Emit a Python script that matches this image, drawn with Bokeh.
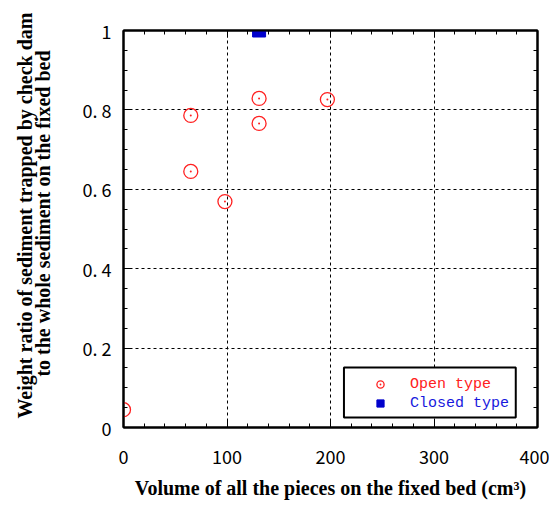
from bokeh.plotting import figure
from bokeh.models import (LinearAxis, FixedTicker, CustomJSTickFormatter, Legend,
                          LegendItem, BoxAnnotation, Range1d, Title)
from bokeh.embed import file_html
from bokeh.resources import INLINE
import numpy as np

# ---- data ----
open_x = [0, 65, 65, 98, 131, 131, 197]
open_y = [0.045, 0.786, 0.645, 0.569, 0.829, 0.766, 0.826]
closed_x = [131]
closed_y = [1.0]

x_ticks = [0, 100, 200, 300, 400]
y_ticks = [0, 0.2, 0.4, 0.6, 0.8, 1.0]
y_tick_labels = ["0", "0. 2", "0. 4", "0. 6", "0. 8", "1"]

x_label = "Volume of all the pieces on the fixed bed (cm\u00b3)"
y_label_lines = ["Weight ratio of sediment trapped by check dam",
                 "to the whole sediment on the fixed bed"]

TICK_FONT = "Noto Sans CJK JP"
LABEL_FONT = "Liberation Serif"
LEGEND_FONT = "Liberation Mono"

p = figure(frame_width=414, frame_height=397,
           x_range=Range1d(0, 400), y_range=Range1d(0, 1),
           output_backend="svg", toolbar_location=None,
           min_border_left=123, min_border_top=30, min_border_right=12,
           min_border_bottom=10)
p.background_fill_color = "white"
p.border_fill_color = "white"
p.outline_line_color = "black"
p.outline_line_width = 2

x_minor = list(np.arange(0, 401, 20))
y_minor = list(np.round(np.arange(0, 1.0001, 0.05), 2))

# grids
for g, t in ((p.xgrid, x_ticks), (p.ygrid, y_ticks)):
    g.ticker = FixedTicker(ticks=t)
    g.grid_line_color = "black"
    g.grid_line_dash = "3 3"
    g.grid_line_width = 1

fmt_js = "var labs = %s; var ts = %s; for (var i=0;i<ts.length;i++){ if (Math.abs(ts[i]-tick)<1e-6) return labs[i]; } return '';" % (
    str(y_tick_labels).replace("'", '"'), str(y_ticks))


def style(ax, ticks, minor, show_labels):
    ax.ticker = FixedTicker(ticks=ticks, minor_ticks=minor)
    ax.axis_line_width = 2
    ax.axis_line_color = "black"
    ax.major_tick_in = 7
    ax.major_tick_out = 0
    ax.minor_tick_in = 4
    ax.minor_tick_out = 0
    ax.major_tick_line_width = 1
    ax.minor_tick_line_width = 1
    if show_labels:
        ax.major_label_text_font = TICK_FONT
        ax.major_label_text_font_size = "18px"
        ax.major_label_text_color = "black"
        ax.axis_label_text_font = LABEL_FONT
        ax.axis_label_text_font_style = "bold"
        ax.axis_label_text_font_size = "20px"
        ax.axis_label_text_color = "black"
    else:
        ax.formatter = CustomJSTickFormatter(code="return '';")
        ax.major_label_standoff = 0


xb = p.xaxis[0]
yl = p.yaxis[0]
style(xb, x_ticks, x_minor, True)
style(yl, y_ticks, y_minor, True)
xb.axis_label = x_label
xb.major_label_standoff = 22
xb.axis_label_standoff = 10
yl.major_label_standoff = 12
yl.formatter = CustomJSTickFormatter(code=fmt_js)

xt = LinearAxis()
style(xt, x_ticks, x_minor, False)
p.add_layout(xt, "above")
yr = LinearAxis()
style(yr, y_ticks, y_minor, False)
p.add_layout(yr, "right")

# y-axis title: two lines as left-side titles (inner line first)
for txt, off, stand in ((y_label_lines[1], 20, 51), (y_label_lines[0], -18, -62)):
    p.add_layout(Title(text=txt, align="right", offset=off, standoff=stand,
                       text_font=LABEL_FONT, text_font_style="bold",
                       text_font_size="20px", text_color="black"), "left")

# data marks
r_open = p.scatter(open_x, open_y, marker="circle", size=14,
                   line_color="#ff2020", fill_color=None, line_width=1.3)
r_open_dot = p.scatter(open_x, open_y, marker="dot", size=8,
                       line_color="#ff2020", fill_color="#ff2020")
r_closed = p.scatter(closed_x, closed_y, marker="square", size=13,
                     line_color="#0000cc", fill_color="#0000cc")

# legend box (frame decoration, in data units)
box = BoxAnnotation(left=213, right=379, bottom=0.025, top=0.151,
                    fill_color="white", fill_alpha=1.0,
                    line_color="black", line_width=2, line_alpha=1.0)
p.add_layout(box)


def make_legend(label, rends, color, loc):
    lg = Legend(items=[LegendItem(label=label, renderers=rends)], location=loc,
                label_text_color=color, label_text_font=LEGEND_FONT,
                label_text_font_size="15px", border_line_alpha=0,
                background_fill_alpha=0, padding=0, margin=0,
                glyph_width=20, glyph_height=18, label_standoff=20,
                label_height=18)
    return lg


p.add_layout(make_legend("Open type", [r_open, r_open_dot], "#ff2020", (247, 34)), "center")
p.add_layout(make_legend("Closed type", [r_closed], "#1818dd", (247, 15)), "center")

open("out.html", "w").write(file_html(p, INLINE))
